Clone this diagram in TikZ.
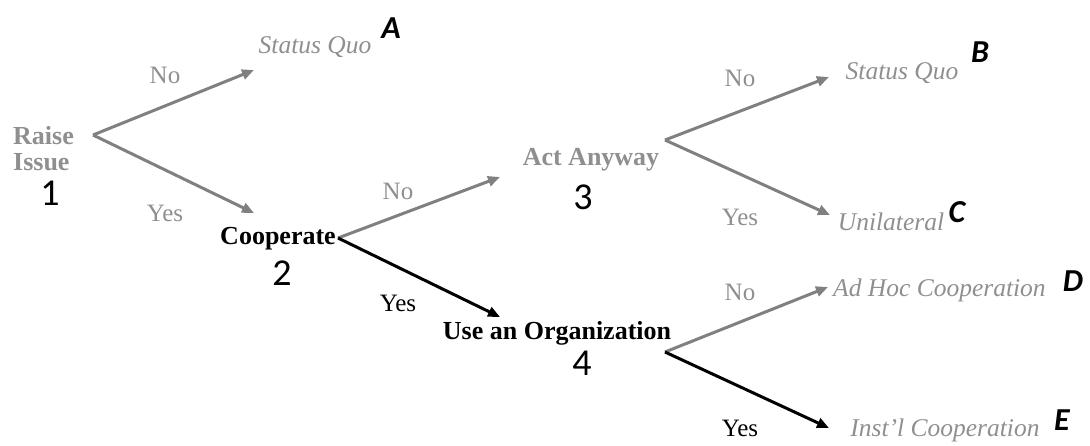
\documentclass[tikz,border=0pt]{standalone}
\usepackage{fontspec}
\setmainfont{Liberation Serif}
\newfontfamily\numfont{Carlito}
\usetikzlibrary{arrows.meta}
\definecolor{linegray}{gray}{0.5}
\definecolor{textgray}{gray}{0.56}
\tikzset{
  txt/.style={inner sep=0pt, font=\fontsize{25}{28}\selectfont},
  graytxt/.style={txt, text=textgray},
  graybold/.style={txt, text=textgray, font=\fontsize{26}{28}\selectfont\bfseries},
  blackbold/.style={txt, text=black, font=\fontsize{26}{28}\selectfont\bfseries},
  outcome/.style={txt, text=textgray, font=\fontsize{25.5}{28}\selectfont\itshape},
  numlbl/.style={inner sep=0pt, font=\numfont\fontsize{38}{40}\selectfont},
  letlbl/.style={inner sep=0pt, font=\numfont\fontsize{32}{34}\selectfont\bfseries\itshape},
  grayarrow/.style={draw=linegray, line width=3pt, -{Triangle[length=12pt,width=10pt]}},
  blackarrow/.style={draw=black, line width=3pt, -{Triangle[length=12pt,width=10pt]}}
}
\begin{document}
\begin{tikzpicture}[x=1pt,y=-1pt]
\useasboundingbox (0,0) rectangle (1090,445);
% decision nodes
\node[graybold, anchor=west, align=left] (raise) at (13,149) {Raise\\[-2pt]Issue};
\node[numlbl] (n1) at (50,193) {1};
\node[blackbold] (coop) at (278,239) {Cooperate};
\node[numlbl] (n2) at (282,273) {2};
\node[graybold] (act) at (591,160) {Act Anyway};
\node[numlbl] (n3) at (583,197) {3};
\node[blackbold] (org) at (557,333) {Use an Organization};
\node[numlbl] (n4) at (582,363) {4};
% outcomes
\node[outcome] (sqA) at (315,47) {Status Quo};
\node[letlbl] (lA) at (391,28) {A};
\node[outcome] (sqB) at (902,73) {Status Quo};
\node[letlbl] (lB) at (980,52) {B};
\node[outcome] (uni) at (891,222) {Unilateral};
\node[letlbl] (lC) at (957,212) {C};
\node[outcome, anchor=west] (adhoc) at (833,290) {Ad Hoc Cooperation};
\node[letlbl] (lD) at (1073,281) {D};
\node[outcome] (inst) at (945,430) {Inst'l Cooperation};
\node[letlbl] (lE) at (1062,420) {E};
% branch labels
\node[graytxt] (no1) at (165,75) {No};
\node[graytxt] (yes1) at (165,213) {Yes};
\node[graytxt] (no2) at (398,191) {No};
\node[txt] (yes2) at (398,303) {Yes};
\node[graytxt] (no3) at (740,78) {No};
\node[graytxt] (yes3) at (740,217) {Yes};
\node[graytxt] (no4) at (740,292) {No};
\node[txt] (yes4) at (740,428) {Yes};
% split points and arrow tips
\coordinate (s1) at (93,135);
\coordinate (tA) at (254,70);
\coordinate (t2) at (254,213);
\coordinate (s2) at (338,238);
\coordinate (t3) at (500,177);
\coordinate (t4) at (500,317);
\coordinate (s3) at (665,140);
\coordinate (tB) at (829,77);
\coordinate (tC) at (830,215);
\coordinate (s4) at (665,352);
\coordinate (tD) at (828,287);
\coordinate (tE) at (829,428);
% connectors
\draw[grayarrow] (s1) -- (tA);
\draw[grayarrow] (s1) -- (t2);
\draw[grayarrow] (s2) -- (t3);
\draw[blackarrow] (s2) -- (t4);
\draw[grayarrow] (s3) -- (tB);
\draw[grayarrow] (s3) -- (tC);
\draw[grayarrow] (s4) -- (tD);
\draw[blackarrow] (s4) -- (tE);
\end{tikzpicture}
\end{document}
